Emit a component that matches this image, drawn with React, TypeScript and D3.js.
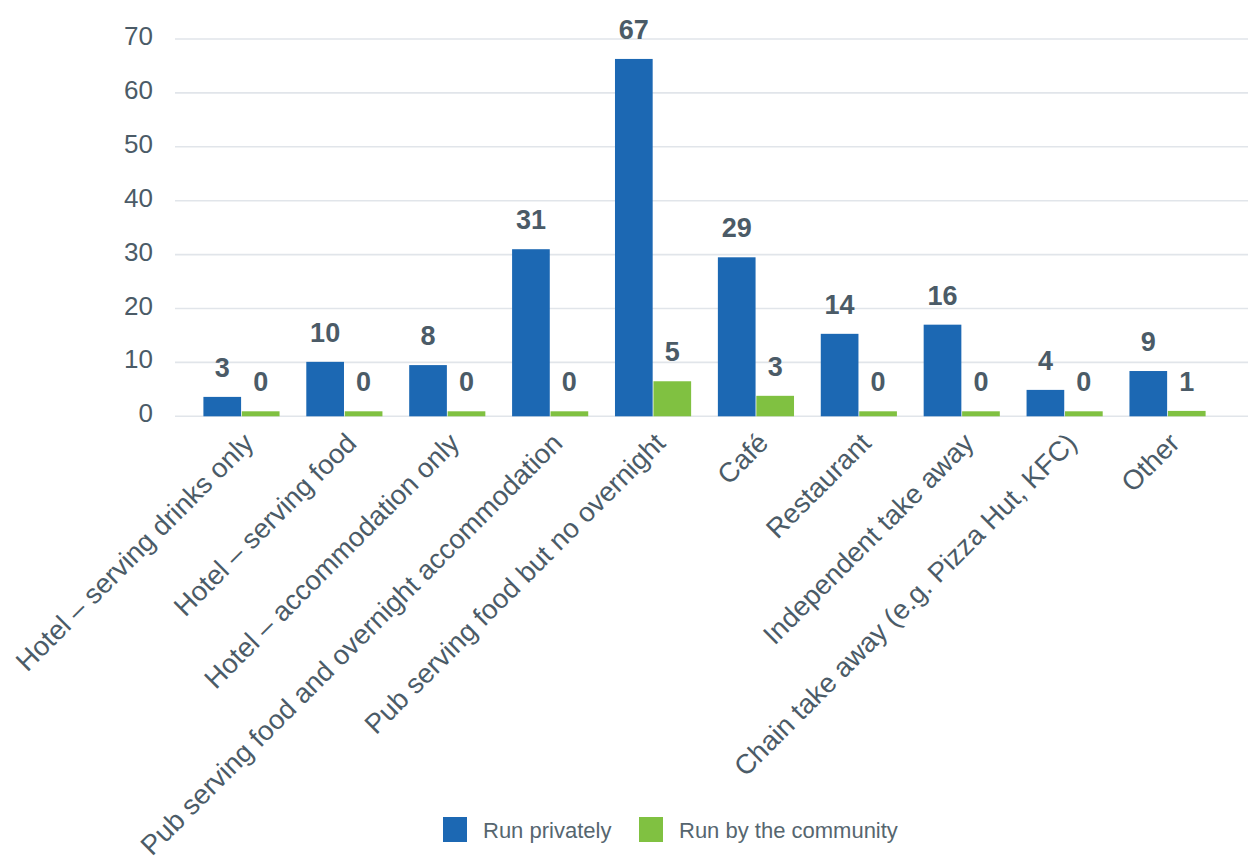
import React from "react";
import * as d3 from "d3";

const categories = [
  "Hotel – serving drinks only",
  "Hotel – serving food",
  "Hotel – accommodation only",
  "Pub serving food and overnight accommodation",
  "Pub serving food but no overnight",
  "Café",
  "Restaurant",
  "Independent take away",
  "Chain take away (e.g. Pizza Hut, KFC)",
  "Other",
];
const seriesNames = ["Run privately", "Run by the community"];
const seriesColors = ["#1c68b3", "#80c141"];
// bar heights
const privateValues = [3.6, 10.1, 9.5, 31.0, 66.3, 29.5, 15.3, 17.0, 4.9, 8.4];
const communityValues = [0, 0, 0, 0, 6.5, 3.8, 0, 0, 0, 1];
// printed data labels
const privateLabels = [3, 10, 8, 31, 67, 29, 14, 16, 4, 9];
const communityLabels = [0, 0, 0, 0, 5, 3, 0, 0, 0, 1];
const yTicks = [0, 10, 20, 30, 40, 50, 60, 70];

const W = 1248;
const H = 866;
const FONT = "'Liberation Sans', Arial, Helvetica, sans-serif";
const TEXT = "#4b5b67";

export default function App() {
  const y = d3.scaleLinear().domain([0, 70]).range([416.3, 39]);
  const x = d3
    .scaleBand<string>()
    .domain(categories)
    .range([189, 1220])
    .paddingInner(0.26)
    .paddingOuter(0.14);
  const xs = d3
    .scaleBand<number>()
    .domain([0, 1])
    .range([0, x.bandwidth()])
    .paddingInner(0.02);

  const values = [privateValues, communityValues];
  const labels = [privateLabels, communityLabels];
  const minH = 5;

  return (
    <svg
      width={W}
      height={H}
      style={{ position: "absolute", left: 0, top: 0, background: "#fff" }}
      fontFamily={FONT}
    >
      {yTicks.map((t) => (
        <g key={t}>
          <line
            x1={175}
            x2={W}
            y1={y(t)}
            y2={y(t)}
            stroke="#e1e5ea"
            strokeWidth={1.6}
          />
          <text
            x={153}
            y={y(t) + 6}
            textAnchor="end"
            fontSize={26}
            fill={TEXT}
          >
            {t}
          </text>
        </g>
      ))}
      {categories.map((c, i) => (
        <g key={c}>
          {values.map((vals, s) => {
            const top = y(vals[i]);
            const h = Math.max(minH, y(0) - top);
            const bx = (x(c) as number) + (xs(s) as number);
            return (
              <g key={s}>
                <rect
                  x={bx}
                  y={y(0) - h}
                  width={xs.bandwidth()}
                  height={h}
                  fill={seriesColors[s]}
                />
                <text
                  x={bx + xs.bandwidth() / 2}
                  y={y(0) - h - 20}
                  textAnchor="middle"
                  fontSize={27}
                  fontWeight="bold"
                  fill={TEXT}
                >
                  {labels[s][i]}
                </text>
              </g>
            );
          })}
          <text
            transform={`translate(${(x(c) as number) + x.bandwidth() / 2 + 7},438) rotate(-45)`}
            textAnchor="end"
            dy="0.35em"
            fontSize={27.5}
            fill={TEXT}
          >
            {c}
          </text>
        </g>
      ))}
      {seriesNames.map((n, s) => {
        const lx = [443, 639][s];
        return (
          <g key={n}>
            <rect x={lx} y={817} width={24} height={25} fill={seriesColors[s]} />
            <text x={lx + 40} y={838} fontSize={22} fill="#56666f">
              {n}
            </text>
          </g>
        );
      })}
    </svg>
  );
}
